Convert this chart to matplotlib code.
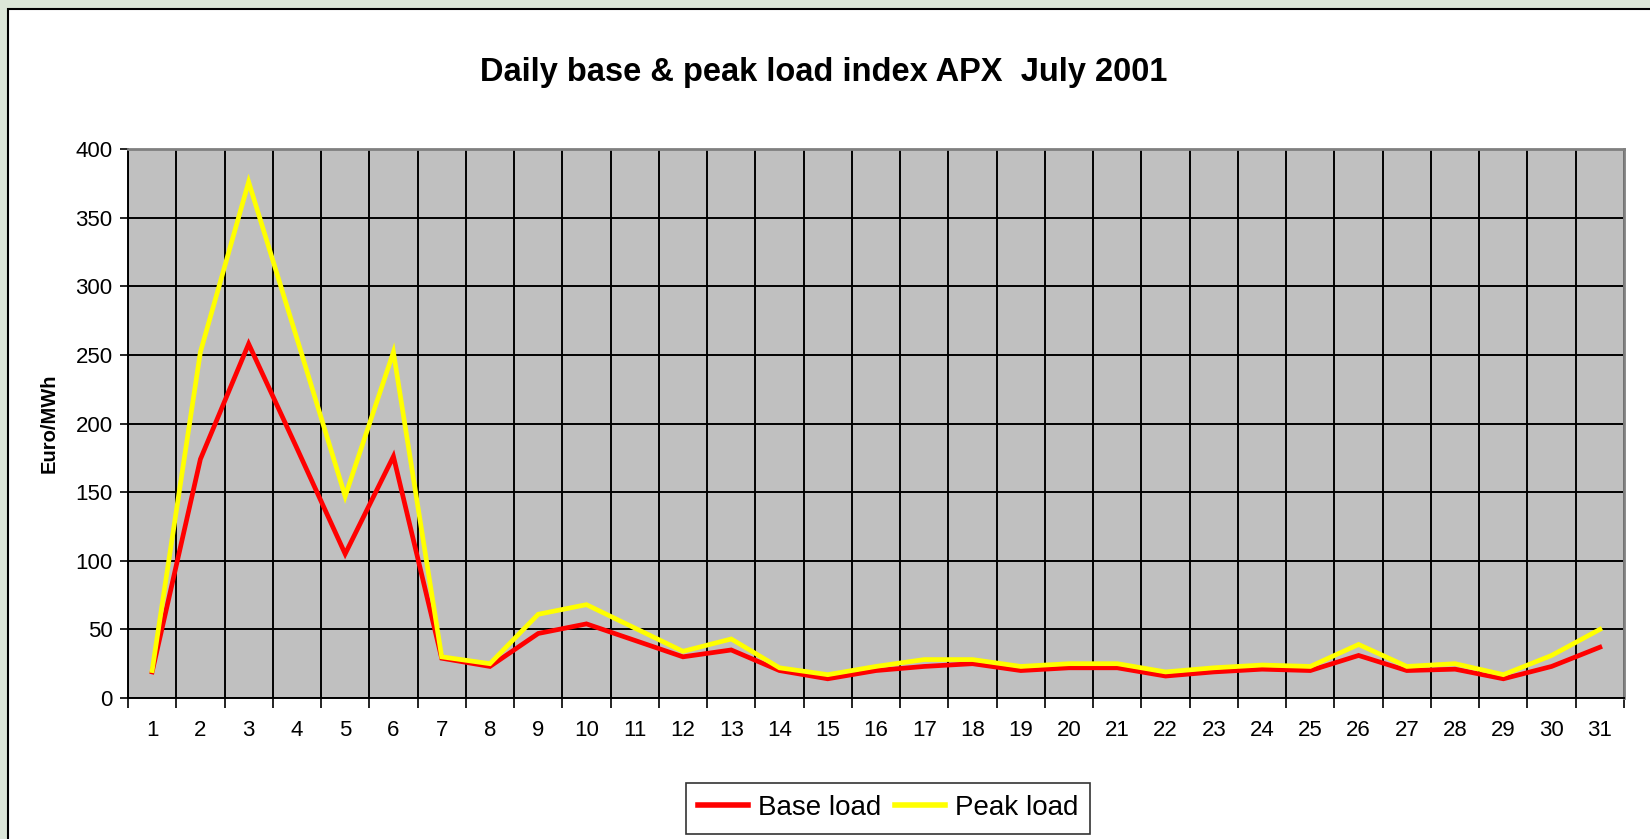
import numpy as np
import matplotlib.pyplot as plt
from matplotlib.patches import Rectangle
from matplotlib.lines import Line2D

plt.rcParams['font.family'] = ['Liberation Sans', 'DejaVu Sans']

# Daily APX index, July 2001 (Euro/MWh)
days = list(range(1, 32))
base_load = [19, 174, 258, 182, 105, 176, 29, 23, 47, 54, 42, 30, 35, 20, 14, 20,
             23, 25, 20, 22, 22, 16, 19, 21, 20, 31, 20, 21, 14, 23, 37]
peak_load = [20, 252, 376, 262, 147, 252, 30, 25, 61, 68, 51, 34, 43, 22, 17, 23,
             28, 28, 23, 25, 25, 19, 22, 24, 23, 39, 23, 25, 17, 31, 50]
y_ticks = [0, 50, 100, 150, 200, 250, 300, 350, 400]

W, H = 1650, 839
fig = plt.figure(figsize=(W / 100, H / 100), dpi=100)
fig.patch.set_facecolor('#dce6d8')

# white chart area with black border
fig.add_artist(Rectangle((8 / W, -0.1), 1.2, 1 - 9 / H + 0.1, transform=fig.transFigure,
                         facecolor='white', edgecolor='black', lw=1.5, zorder=0))

ax = fig.add_axes([128 / W, 1 - 698 / H, (1624 - 128) / W, (698 - 149) / H])
ax.set_facecolor('#c0c0c0')

ax.plot(days, base_load, color='#ff0000', lw=3.4, solid_joinstyle='miter', zorder=3)
ax.plot(days, peak_load, color='#ffff00', lw=3.4, solid_joinstyle='miter', zorder=4)

ax.set_xlim(0.5, 31.5)
ax.set_ylim(0, 400)

# y axis
ax.set_yticks(y_ticks)
ax.tick_params(axis='y', which='major', length=6, width=1.2, direction='out',
               labelsize=16, pad=5, color='black')
ax.grid(axis='y', which='major', color='black', lw=1.4, zorder=1)

# x axis: boundaries as major ticks/grid, labels at category centres
ax.set_xticks(np.arange(0.5, 32, 1))
ax.set_xticklabels([])
ax.set_xticks(days, minor=True)
ax.set_xticklabels([str(d) for d in days], minor=True)
ax.tick_params(axis='x', which='major', length=7, width=1.2, direction='out', color='black')
ax.tick_params(axis='x', which='minor', length=0, labelsize=16, pad=16)
ax.grid(axis='x', which='major', color='black', lw=1.4, zorder=1)
ax.set_axisbelow(True)

for side in ['top', 'right']:
    ax.spines[side].set_color('#808080')
    ax.spines[side].set_linewidth(2)
for side in ['left', 'bottom']:
    ax.spines[side].set_color('black')
    ax.spines[side].set_linewidth(1.4)

ax.set_ylabel('Euro/MWh', fontsize=14.5, fontweight='bold', labelpad=12)

fig.text(824 / W, 1 - 72 / H, 'Daily base & peak load index APX  July 2001',
         ha='center', va='center', fontsize=23.5, fontweight='bold')

handles = [Line2D([], [], color='#ff0000', lw=4),
           Line2D([], [], color='#ffff00', lw=4)]
leg = fig.legend(handles, ['Base load', 'Peak load'], loc='center',
                 bbox_to_anchor=(888 / W, 1 - 808 / H), bbox_transform=fig.transFigure,
                 ncol=2, fontsize=20, frameon=True, fancybox=False, shadow=False,
                 handlelength=1.8, handletextpad=0.35, columnspacing=0.5,
                 borderpad=0.45, borderaxespad=0)
leg.get_frame().set_edgecolor('black')
leg.get_frame().set_linewidth(1.2)

fig.savefig('out.png', dpi=100, facecolor=fig.get_facecolor())
